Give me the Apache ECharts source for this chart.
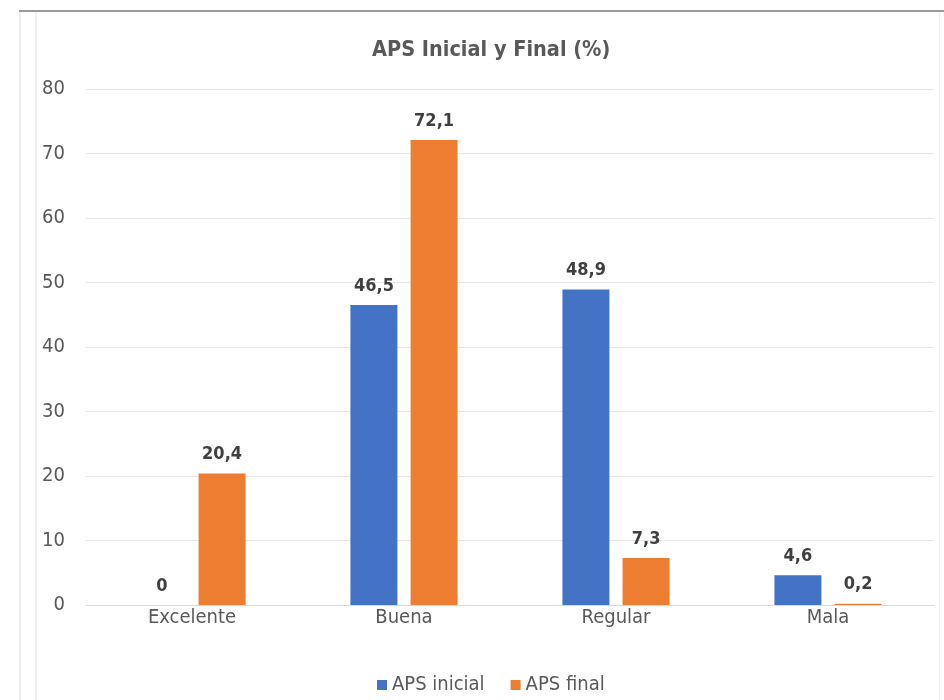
<!DOCTYPE html>
<html>
<head>
<meta charset="utf-8">
<script src="https://cdn.jsdelivr.net/npm/echarts@6/dist/echarts.min.js"></script>
<style>
  html, body { margin: 0; padding: 0; background: #ffffff; }
  #chart { width: 944px; height: 700px; }
</style>
</head>
<body>
<div id="chart"></div>
<script>
// Categories and values (percent) for the initial and final APS rating
const categories = ['Excelente', 'Buena', 'Regular', 'Mala'];
const apsInicial = [0, 46.5, 48.9, 4.6];
const apsFinal = [20.4, 72.1, 7.3, 0.2];
const seriesNames = ['APS inicial', 'APS final'];
const titleText = 'APS Inicial y Final (%)';

const FONT = '"Liberation Sans Narrow", "DejaVu Sans Condensed", Lato, sans-serif';
const fmt = v => String(v.value).replace('.', ',');

const valueLabel = {
  show: true, position: 'top', distance: 10, formatter: fmt,
  fontFamily: FONT, fontSize: 18, fontWeight: 'bold', color: '#404040'
};

const chart = echarts.init(document.getElementById('chart'), null, { renderer: 'canvas' });

chart.setOption({
  backgroundColor: '#ffffff',
  animation: false,
  title: {
    text: titleText,
    left: 367,
    top: 34,
    textStyle: { fontFamily: FONT, fontSize: 21.5, fontWeight: 'bold', color: '#595959' }
  },
  legend: {
    data: seriesNames,
    bottom: 0,
    left: 372,
    itemWidth: 10,
    itemHeight: 10,
    itemGap: 26,
    icon: 'rect',
    textStyle: { fontFamily: FONT, fontSize: 20, color: '#595959' }
  },
  grid: { left: 86, right: 10, top: 89, bottom: 95, containLabel: false },
  xAxis: {
    type: 'category',
    data: categories,
    axisLine: { show: true, lineStyle: { color: '#d9d9d9', width: 1 } },
    axisTick: { show: false },
    axisLabel: { fontFamily: FONT, fontSize: 20, color: '#595959', margin: 3 }
  },
  yAxis: {
    type: 'value',
    min: 0,
    max: 80,
    interval: 10,
    axisLine: { show: false },
    axisTick: { show: false },
    axisLabel: { fontFamily: FONT, fontSize: 20, color: '#595959', margin: 21 },
    splitLine: { lineStyle: { color: '#e6e6e6', width: 1 } }
  },
  series: [
    {
      name: seriesNames[0],
      type: 'bar',
      data: apsInicial,
      barWidth: 47,
      barGap: '28%',
      itemStyle: { color: '#4472C4' },
      label: valueLabel
    },
    {
      name: seriesNames[1],
      type: 'bar',
      data: apsFinal,
      barWidth: 47,
      barGap: '28%',
      itemStyle: { color: '#ED7D31' },
      label: valueLabel
    }
  ],
  graphic: [
    // frame around the chart area
    { type: 'rect', shape: { x: 19, y: 10, width: 925, height: 2 }, style: { fill: '#9a9a9a' }, silent: true },
    { type: 'rect', shape: { x: 19, y: 12, width: 2, height: 688 }, style: { fill: '#eeeeee' }, silent: true },
    { type: 'rect', shape: { x: 35, y: 12, width: 2, height: 688 }, style: { fill: '#f0f0f0' }, silent: true },
    { type: 'rect', shape: { x: 939, y: 12, width: 1, height: 688 }, style: { fill: '#f0f0f0' }, silent: true }
  ]
});
</script>
</body>
</html>
